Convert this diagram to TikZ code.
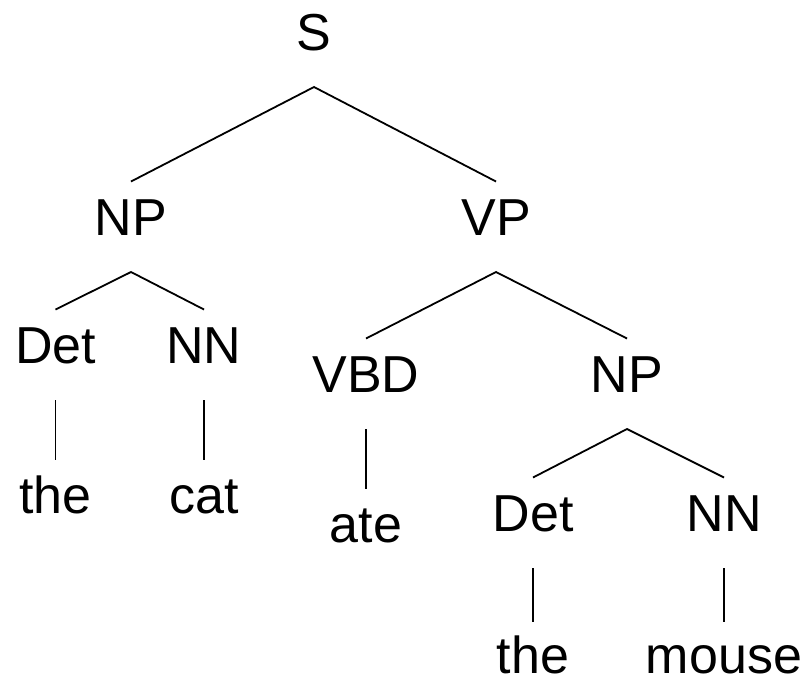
\documentclass[tikz,border=0pt]{standalone}
\usepackage{fontspec}
\setmainfont{Liberation Sans}
\begin{document}
\begin{tikzpicture}[x=1pt,y=-1pt,
  cat/.style={anchor=base,inner xsep=0pt,inner ysep=16pt,outer sep=0pt,
    text height=37.5pt,text depth=21pt,
    font=\fontsize{52}{60}\selectfont},
  lowleaf/.style={cat,inner ysep=0pt,text depth=0pt},
  edge/.style={line width=1.8pt},
  toleaf/.style={edge,shorten >=14pt}]
\useasboundingbox (0,0) rectangle (810,683);
% labels (placed by baseline)
\node[cat] (S)     at (314,50)  {S};
\node[cat] (NP)    at (131,235) {NP};
\node[cat] (VP)    at (496,235) {VP};
\node[cat] (Det)   at (55.5,363) {Det};
\node[cat] (NN)    at (204,363) {NN};
\node[cat] (VBD)   at (366,392) {VBD};
\node[cat] (NPb)   at (627,392) {NP};
\node[cat] (the)   at (55.5,513) {the};
\node[cat] (catw)  at (204,513) {cat};
\node[cat] (ate)   at (366,542) {ate};
\node[cat] (Detb)  at (533,531) {Det};
\node[cat] (NNb)   at (724,531) {NN};
\node[lowleaf] (theb)  at (533,673) {the};
\node[lowleaf] (mouse) at (724,673) {mouse};
% branches
\draw[edge] (NP.north) -- (S.south) -- (VP.north);
\draw[edge] (Det.north) -- (NP.south) -- (NN.north);
\draw[edge] (VBD.north) -- (VP.south) -- (NPb.north);
\draw[edge] (Detb.north) -- (NPb.south) -- (NNb.north);
\draw[edge] (Det.south) -- (the.north);
\draw[edge] (NN.south) -- (catw.north);
\draw[edge] (VBD.south) -- (ate.north);
\draw[toleaf] (Detb.south) -- (theb.north);
\draw[toleaf] (NNb.south) -- (mouse.north);
\end{tikzpicture}
\end{document}
